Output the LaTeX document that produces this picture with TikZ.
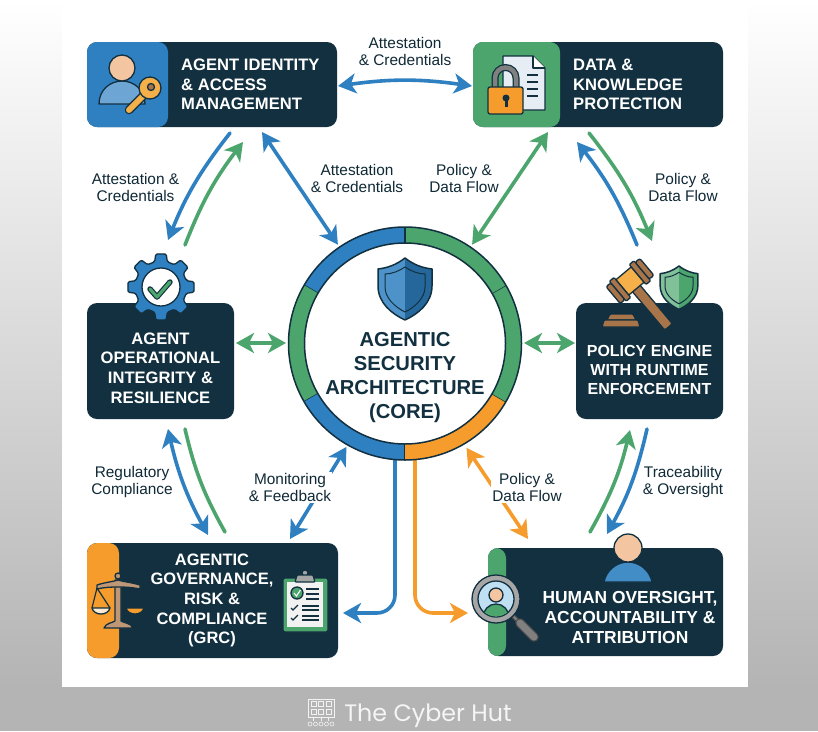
\documentclass[tikz,border=0pt]{standalone}
\usepackage{fontspec}
\setmainfont{Liberation Sans}
\newfontfamily\hutfont{Poppins}
\usetikzlibrary{arrows.meta, positioning, calc, shapes.geometric}

\definecolor{navy}{HTML}{12303F}
\definecolor{hutblue}{HTML}{2E80C1}
\definecolor{hutgreen}{HTML}{4CA56D}
\definecolor{hutorange}{HTML}{F59C2C}
\definecolor{hutgrey}{HTML}{B4B4B4}
\definecolor{skin}{HTML}{F3C5A0}
\definecolor{woodbrown}{HTML}{A8744A}
\definecolor{keygold}{HTML}{F5B04A}
\definecolor{lensblue}{HTML}{BFE0F2}
\definecolor{paper}{HTML}{E6EDF5}

\newcommand{\shieldicon}[5]{%
  \begin{scope}[shift={(#1,#2)},scale=#3]
    \fill[#4] (0,0) .. controls (9,7) and (18,10) .. (27,11) -- (27,28) .. controls (27,45) and (13,56) .. (0,62) .. controls (-13,56) and (-27,45) .. (-27,28) -- (-27,11) .. controls (-18,10) and (-9,7) .. (0,0) -- cycle;
    \fill[#5] (0,0) .. controls (9,7) and (18,10) .. (27,11) -- (27,28) .. controls (27,45) and (13,56) .. (0,62) -- cycle;
    \draw[navy, line width=1.5pt, line join=round] (0,0) .. controls (9,7) and (18,10) .. (27,11) -- (27,28) .. controls (27,45) and (13,56) .. (0,62) .. controls (-13,56) and (-27,45) .. (-27,28) -- (-27,11) .. controls (-18,10) and (-9,7) .. (0,0) -- cycle;
    \draw[navy, line width=1pt, line join=round] (0,9) .. controls (6,13) and (13,16) .. (20,16) -- (20,29) .. controls (20,40) and (10,49) .. (0,54) .. controls (-10,49) and (-20,40) .. (-20,29) -- (-20,16) .. controls (-13,16) and (-6,13) .. (0,9) -- cycle;
  \end{scope}}

\begin{document}
\begin{tikzpicture}[
        x=1pt, y=-1pt,
        >={Stealth[length=18pt,width=20pt,inset=5pt]},
        panel/.style={rectangle, fill=navy, rounded corners=10pt, outer sep=0pt, inner sep=0pt},
        strip/.style 2 args={path picture={\fill[#1] (path picture bounding box.north west) rectangle ([xshift=#2]path picture bounding box.south west);}},
        title/.style={font=\bfseries\fontsize{16.6}{19.6}\selectfont, text=white, inner sep=0pt},
        flowlabel/.style={font=\fontsize{15.4}{17}\selectfont, text=navy!85!black, align=center, inner sep=1pt},
        arrow/.style={line width=3.6pt, line cap=round, ->},
        both/.style={line width=3.6pt, line cap=round, <->},
        line/.style={line width=3.6pt, line cap=round},
        outline/.style={draw=navy, line width=1.3pt, line join=round}
        ]
        \useasboundingbox (0,0) rectangle (818,731);

        % Background
        \shade[top color=white, bottom color=hutgrey] (0,0) rectangle (818,687);
        \fill[hutgrey] (0,687) rectangle (818,731);
        \fill[white] (62,0) rectangle (748,687);

        % Nodes
        \node (identity) [panel, minimum width=250pt, minimum height=85pt, strip={hutblue}{81pt}] at (212,84.5) {};
        \node (data) [panel, right=136pt of identity, minimum width=250pt, minimum height=85pt, strip={hutgreen}{87pt}] {};
        \node (operational) [panel, below=176pt of identity.south west, anchor=north west, minimum width=147pt, minimum height=116pt] {};
        \node (policy) [panel, below=176pt of data.south east, anchor=north east, minimum width=147pt, minimum height=116pt] {};
        \node (grc) [panel, below=124pt of operational.south west, anchor=north west, minimum width=251pt, minimum height=115pt, strip={hutorange}{32pt}] {};
        \node (human) [panel, below=129pt of policy.south east, anchor=north east, minimum width=235pt, minimum height=108pt, strip={hutgreen}{18pt}] {};
        \node (core) [circle, fill=white, minimum size=234pt, inner sep=0pt, outer sep=0pt] at (405,343.5) {};

        % Titles
        \node (identity_title) [title, anchor=west, align=left] at ([xshift=94pt]identity.west) {AGENT IDENTITY\\\& ACCESS\\MANAGEMENT};
        \node (data_title) [title, anchor=west, align=left] at ([xshift=100pt]data.west) {DATA \&\\KNOWLEDGE\\PROTECTION};
        \node (operational_title) [title, align=center] at ([yshift=-7pt]operational.center) {AGENT\\OPERATIONAL\\INTEGRITY \&\\RESILIENCE};
        \node (policy_title) [title, align=center, font=\bfseries\fontsize{16}{19.2}\selectfont] at ([yshift=-9pt]policy.center) {POLICY ENGINE\\WITH RUNTIME\\ENFORCEMENT};
        \node (grc_title) [title, align=center, font=\bfseries\fontsize{16.5}{19.6}\selectfont] at (212,600.5) {AGENTIC\\GOVERNANCE,\\RISK \&\\COMPLIANCE\\(GRC)};
        \node (human_title) [title, align=center, font=\bfseries\fontsize{17.4}{19.6}\selectfont] at (630,617.5) {HUMAN OVERSIGHT,\\ACCOUNTABILITY \&\\ATTRIBUTION};
        \node (core_title) [title, align=center, text=navy, font=\bfseries\fontsize{20.2}{24}\selectfont] at (405,378) {AGENTIC\\SECURITY\\ARCHITECTURE\\(CORE)};

        % Arrows
        \draw [both, hutblue] ([shift={(1,1.5)}]identity.east) to[bend left=8] ([shift={(-1,1.5)}]data.west);

        \draw [arrow, hutblue] ([shift={(18,6)}]identity.south) to[bend right=8] ([shift={(7.5,-63)}]operational.north);
        \draw [arrow, hutgreen] ([shift={(24.5,-58)}]operational.north) to[bend left=8] ([shift={(31,15)}]identity.south);
        \draw [both, hutblue] ([shift={(50,5)}]identity.south) -- ([shift={(0,-3)}]core.125);
        \draw [both, hutgreen] ([shift={(-50,5)}]data.south) -- ([shift={(0,-3)}]core.55);

        \draw [arrow, hutgreen] ([shift={(-9,6)}]data.south) to[bend left=8] ([shift={(2.5,-62)}]policy.north);
        \draw [arrow, hutblue] ([shift={(-12.5,-58)}]policy.north) to[bend right=8] ([shift={(-21,15)}]data.south);

        \draw [both, hutgreen] ([shift={(2,-18)}]operational.east) -- ([shift={(-2,-0.5)}]core.west);
        \draw [both, hutgreen] ([shift={(-1,-18)}]policy.west) -- ([shift={(2,-0.5)}]core.east);

        \draw [both, hutblue] ([shift={(7.5,10)}]operational.south) to[bend right=8] ([shift={(-4.5,-8)}]grc.north);
        \draw [line, hutgreen] ([shift={(24.5,10)}]operational.south) to[bend right=8] ([shift={(12.5,-11)}]grc.north);

        \draw [both, hutblue] ([shift={(0,2)}]core.240) -- ([shift={(77.5,-4)}]grc.north);
        \draw [both, hutorange] ([shift={(3,3)}]core.300) -- ([shift={(-77.5,-9)}]human.north);

        \draw [arrow, hutblue, rounded corners=18pt] ([xshift=-10pt]core.south) |- ([shift={(5,12.5)}]grc.east);
        \draw [arrow, hutorange, rounded corners=18pt] ([xshift=10pt]core.south) |- ([shift={(-20,11)}]human.west);

        \draw [arrow, hutgreen] ([shift={(-15.5,-16)}]human.north) to[bend right=8] ([shift={(-19.5,11)}]policy.south);
        \draw [arrow, hutblue] ([shift={(-2.5,10)}]policy.south) to[bend left=8] ([shift={(1.5,-14)}]human.north);

        % Labels
        \node (label_top) [flowlabel] at (405,51.5) {Attestation\\\& Credentials};
        \node (label_left) [flowlabel] at (135.5,187.5) {Attestation \&\\Credentials};
        \node (label_core) [flowlabel] at (357,178.5) {Attestation\\\& Credentials};
        \node (label_data) [flowlabel] at (464,178.5) {Policy \&\\Data Flow};
        \node (label_policy) [flowlabel] at (683,187.5) {Policy \&\\Data Flow};
        \node (label_regulatory) [flowlabel] at (132,482.5) {Regulatory\\Compliance};
        \node (label_monitoring) [flowlabel, fill=white] at (290,487.5) {Monitoring\\\& Feedback};
        \node (label_flow) [flowlabel, fill=white] at (527,487.5) {Policy \&\\Data Flow};
        \node (label_trace) [flowlabel] at (683,482.5) {Traceability\\\& Oversight};

        % Core ring
        \begin{scope}[shift={(core.center)}]
            \foreach \from/\to/\col in {210/270/hutblue, 150/210/hutgreen, 90/150/hutblue, 30/90/hutorange, -30/30/hutgreen, -90/-30/hutgreen}{
                \fill[\col] (\from:116.5) arc[start angle=\from, end angle=\to, radius=116.5] -- (\to:100.5) arc[start angle=\to, end angle=\from, radius=100.5] -- cycle;
                \draw[draw=navy, line width=1.3pt] (\from:116.5) -- (\from:100.5);
            }
            \draw[navy, line width=1.5pt] (0,0) circle[radius=116.5];
            \draw[navy, line width=1.5pt] (0,0) circle[radius=100.5];
        \end{scope}
        \shieldicon{405}{258}{1}{hutblue!85!white}{hutblue!80!black}

        % Person and key
        \draw[outline, fill=hutblue!70!white] (99,104) .. controls (99,90) and (110,81) .. (122,81) .. controls (134,81) and (145,90) .. (145,104) -- cycle;
        \draw[outline, fill=skin] (122,68) circle[radius=13];
        \draw[navy, line width=8.5pt, line cap=round] (146,93) -- (129,110);
        \draw[keygold, line width=6pt, line cap=round] (146,93) -- (129,110);
        \draw[outline, fill=keygold] (150,88) circle[radius=11];
        \draw[outline, fill=woodbrown] (151,87) circle[radius=3.5];

        % Lock and document
        \draw[outline, fill=paper] (503,56) -- (533,56) -- (545,68) -- (545,110) -- (503,110) -- cycle;
        \draw[outline, fill=white] (533,56) -- (533,68) -- (545,68);
        \foreach \liney in {75,82,89,96}{
            \draw[navy, line width=1.2pt] (527,\liney) -- (538,\liney);
        }
        \draw[navy, line width=7pt] (495,90) -- (495,78) arc[start angle=180, end angle=360, radius=10.5] -- (516,90);
        \draw[gray, line width=4.5pt] (495,90) -- (495,78) arc[start angle=180, end angle=360, radius=10.5] -- (516,90);
        \draw[outline, fill=hutorange, rounded corners=2pt] (488,87) rectangle (523,114);
        \fill[navy] (506,98) circle[radius=3.5];
        \fill[navy] (504.5,98) rectangle (507.5,107);

        % Gear with check
        \begin{scope}[shift={(161,287)}]
            \draw[outline, fill=hutblue, rounded corners=1.5pt] (-14:26) \foreach \a in {0,45,...,315}{ -- (\a-14:26) -- (\a-9:33.5) -- (\a+9:33.5) -- (\a+14:26)} -- cycle;
            \draw[outline, fill=white] (0,0) circle[radius=19];
            \draw[navy, line width=5.5pt, line cap=round, line join=round] (-11,2) -- (-4,10) -- (9,-5);
            \draw[hutgreen, line width=3.2pt, line cap=round, line join=round] (-11,2) -- (-4,10) -- (9,-5);
        \end{scope}

        % Gavel and shield
        \draw[outline, fill=woodbrown, rounded corners=1pt] (607,320) -- (610,314) -- (633,314) -- (636,320) -- cycle;
        \draw[outline, fill=woodbrown, rounded corners=1pt] (602,327) -- (604,320) -- (638,320) -- (640,327) -- cycle;
        \begin{scope}[shift={(630,281)}, rotate=40]
            \draw[outline, fill=woodbrown, rounded corners=2pt] (-5,8) rectangle (5,60);
            \draw[outline, fill=keygold] (-10,-10) rectangle (10,10);
            \draw[outline, fill=woodbrown, rounded corners=1pt] (-16,-13) rectangle (-10,13);
            \draw[outline, fill=woodbrown, rounded corners=1pt] (10,-13) rectangle (16,13);
            \draw[outline, fill=woodbrown, rounded corners=2pt] (-22,-11) rectangle (-16,11);
            \draw[outline, fill=woodbrown, rounded corners=2pt] (16,-11) rectangle (22,11);
        \end{scope}
        \shieldicon{679}{266}{0.7}{hutgreen!70!white}{hutgreen}

        % Scales
        \begin{scope}[line join=round]
            \draw[navy, line width=1.2pt] (97,588) -- (92,608) (97,588) -- (110,608) (136,588) -- (127,608) (136,588) -- (143,608);
            \draw[outline, fill=white!80!hutorange] (92,608) .. controls (94,616) and (108,616) .. (110,608) -- cycle;
            \draw[outline, fill=hutorange] (126,608) .. controls (128,616) and (142,616) .. (144,608) -- cycle;
            \draw[outline, fill=woodbrown!75!white] (115,580) -- (121,580) -- (121,621) .. controls (124,623) and (131,623) .. (133,628) -- (104,628) .. controls (106,623) and (112,623) .. (115,621) -- cycle;
            \draw[outline, fill=woodbrown!75!white] (97,585) .. controls (106,582) and (112,582) .. (118,580) .. controls (124,582) and (130,582) .. (140,585) -- (140,589) .. controls (130,587) and (124,587) .. (118,587) .. controls (112,587) and (106,587) .. (97,589) -- cycle;
            \draw[outline, fill=woodbrown!75!white] (118,576) circle[radius=3];
        \end{scope}

        % Clipboard
        \draw[outline, fill=hutgreen, rounded corners=2pt] (283,578) rectangle (328,632);
        \fill[white!90!gray] (287,582) rectangle (323,627);
        \draw[outline, fill=gray!70] (305,573) circle[radius=3];
        \draw[outline, fill=gray!70, rounded corners=1pt] (295,582) -- (297,575) -- (313,575) -- (315,582) -- cycle;
        \draw[outline, fill=hutgreen] (297,593) circle[radius=6];
        \draw[white, line width=1pt] (294,593) -- (296.5,596) -- (300.5,590);
        \foreach \liney in {589,594,599}{
            \draw[navy, line width=1.5pt] (306,\liney) -- (319,\liney);
        }
        \foreach \liney in {606,610,616,620}{
            \draw[navy, line width=1.5pt] (302,\liney) -- (319,\liney);
        }
        \foreach \liney in {608,618}{
            \draw[navy, line width=1.2pt] (291,\liney) -- (293,\liney+2) -- (298,\liney-3);
        }

        % Magnifier with person
        \draw[black!70, line width=4.5pt] (513,616) -- (522,625);
        \draw[gray, line width=2pt] (513,616) -- (522,625);
        \draw[black!70, line width=9.5pt, line cap=round] (520,623) -- (534,637);
        \draw[gray, line width=7pt, line cap=round] (520,623) -- (534,637);
        \draw[outline, fill=gray!70] (496,599) circle[radius=24];
        \draw[outline, fill=lensblue] (496,599) circle[radius=18];
        \begin{scope}
            \clip (496,599) circle[radius=17.5];
            \draw[outline, fill=hutgreen] (483,620) .. controls (483,609) and (489,604) .. (496,604) .. controls (503,604) and (509,609) .. (509,620) -- cycle;
            \draw[outline, fill=skin] (496,595) circle[radius=7];
        \end{scope}

        % Person above the panel
        \draw[outline, fill=hutblue!90!white] (604,582) .. controls (606,571) and (616,562) .. (628,562) .. controls (640,562) and (650,571) .. (652,582) -- cycle;
        \draw[outline, fill=skin] (628,548) circle[radius=14];

        % Footer
        \begin{scope}[draw=white!90!gray, line width=0.6pt]
            \draw (308,699) rectangle (334,717);
            \foreach \i in {0,1,2}{
                \draw (311+\i*7.5,701.5) rectangle (316+\i*7.5,706);
                \draw (311+\i*7.5,709.5) rectangle (316+\i*7.5,714);
                \draw (313.5+\i*7.5,717) -- (313.5+\i*7.5,721);
            }
            \foreach \i in {0,1,2,3,4}{
                \draw (310+\i*5.5,724) circle[radius=2];
            }
        \end{scope}
        \node (hut_name) [font=\hutfont\fontsize{23.8}{28}\selectfont, text=white!92!gray, inner sep=0pt] at (428,716) {The Cyber Hut};
    \end{tikzpicture}
\end{document}
